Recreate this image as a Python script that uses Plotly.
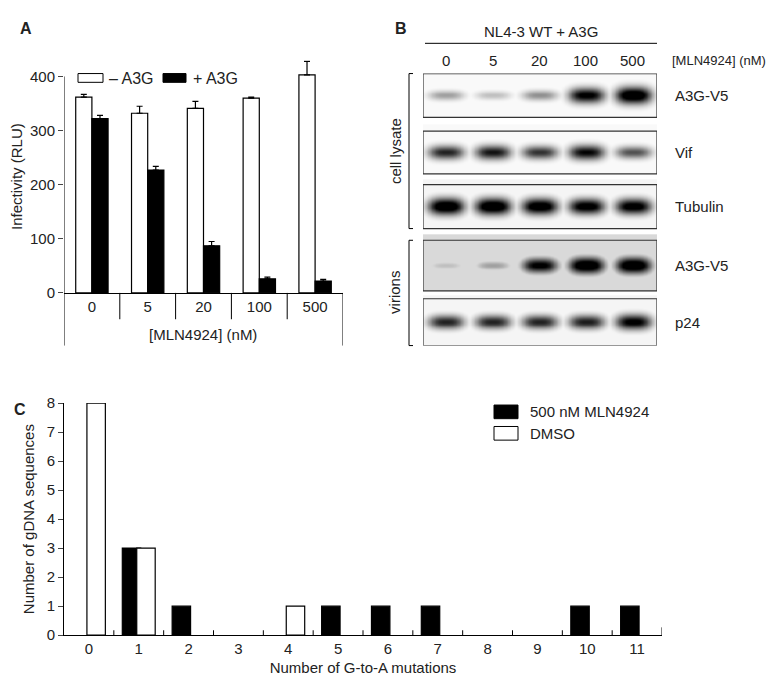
import numpy as np
import plotly.graph_objects as go

W, H = 778, 679
def px(x): return x / W
def py(y): return 1 - y / H

# Panel A data
conc = ["0", "5", "20", "100", "500"]
minus_a3g = [362, 332, 341, 360, 403]
minus_err = [5, 13, 13, 2, 25]
plus_a3g = [322, 227, 87, 26, 22]
plus_err = [6, 7, 8, 3, 3]

# Panel B (band intensities, 0..1)
blot_names = ["A3G-V5", "Vif", "Tubulin", "A3G-V5", "p24"]
blot_int = [
    [0.30, 0.20, 0.35, 0.85, 1.00],
    [0.70, 0.75, 0.65, 0.80, 0.55],
    [1.00, 1.00, 0.95, 0.90, 0.90],
    [0.20, 0.30, 0.85, 1.00, 1.00],
    [0.70, 0.70, 0.70, 0.72, 0.85],
]
blot_bg = [0.02, 0.02, 0.03, 0.12, 0.03]

# Panel C data (None = no sequences)
mutations = [str(i) for i in range(12)]
mln_counts = [None, 3, 1, None, None, 1, 1, 1, None, None, 1, 1]
dmso_counts = [8, 3, None, None, 1, None, None, None, None, None, None, None]

FONT = "Liberation Sans, Arial, sans-serif"
fig = go.Figure()

fig.add_trace(go.Bar(x=conc, y=minus_a3g, error_y=dict(type="data", array=minus_err, symmetric=False, arrayminus=[0]*5, color="black", thickness=1.2, width=3),
                     marker=dict(color="white", line=dict(color="black", width=1.2)), xaxis="x", yaxis="y", showlegend=False))
fig.add_trace(go.Bar(x=conc, y=plus_a3g, error_y=dict(type="data", array=plus_err, symmetric=False, arrayminus=[0]*5, color="black", thickness=1.2, width=3),
                     marker=dict(color="black", line=dict(color="black", width=1.2)), xaxis="x", yaxis="y", showlegend=False))

fig.add_trace(go.Bar(x=mutations, y=mln_counts, marker=dict(color="black", line=dict(color="black", width=1.2)),
                     xaxis="x3", yaxis="y3", offsetgroup="a", showlegend=False, width=0.37))
fig.add_trace(go.Bar(x=mutations, y=dmso_counts, marker=dict(color="white", line=dict(color="black", width=1.2)),
                     xaxis="x3", yaxis="y3", offsetgroup="b", showlegend=False, width=0.37))

boxes = [(58, 103), (117, 161), (172, 217), (229, 281), (289, 337)]
xs = np.linspace(0, 5, 300)
ys_all, zs = [], []
for (y0, y1), ints, bg in zip(boxes, blot_int, blot_bg):
    ys = np.arange(y0, y1 + 0.5, 0.5)
    yc = (y0 + y1) / 2
    Z = np.full((len(ys), len(xs)), bg)
    for i, I in enumerate(ints):
        sx = np.exp(-(np.abs(xs - (i + 0.5)) / 0.38) ** 3)
        sy = np.exp(-((ys - yc) / (3.5 + 5 * I)) ** 2)
        Z = np.maximum(Z, I * np.outer(sy, sx))
    ys_all.append(ys); zs.append(Z)
    ys_all.append([y1 + 0.25]); zs.append(np.full((1, len(xs)), np.nan))
Y = np.concatenate(ys_all)
Z = np.vstack(zs)
fig.add_trace(go.Heatmap(x=xs, y=Y, z=Z, colorscale=[[0, "white"], [1, "black"]], zmin=0, zmax=0.8,
                         showscale=False, xaxis="x2", yaxis="y2", hoverinfo="skip"))

ytopA = 283 - 222 * 430 / 400
fig.update_layout(
    width=W, height=H, margin=dict(l=0, r=0, t=0, b=0), paper_bgcolor="white", plot_bgcolor="white",
    font=dict(family=FONT, size=15, color="#222"), barmode="group", bargap=0.42, bargroupgap=0,
    xaxis=dict(domain=[px(56), px(335)], anchor="y", range=[-0.5, 4.5], showline=True, linecolor="black",
               ticks="", tickfont=dict(size=15)),
    yaxis=dict(domain=[py(283), py(ytopA)], anchor="x", range=[0, 430], showline=False,
               ticks="outside", ticklen=5, tickvals=[0, 100, 200, 300, 400], showgrid=False, zeroline=False,
               title=dict(text="Infectivity (RLU)", standoff=6, font=dict(size=15)), tickfont=dict(size=15)),
    xaxis2=dict(domain=[px(415), px(649)], anchor="y2", range=[0, 5], visible=False),
    yaxis2=dict(domain=[py(337), py(58)], anchor="x2", range=[337, 58], visible=False),
    xaxis3=dict(domain=[px(56), px(654)], anchor="y3", range=[-0.5, 11.5], showline=True, linecolor="black",
                ticks="", tickfont=dict(size=15),
                title=dict(text="Number of G-to-A mutations", standoff=6, font=dict(size=15))),
    yaxis3=dict(domain=[py(634), py(396)], anchor="x3", range=[0, 8], showline=True, linecolor="black",
                ticks="outside", ticklen=5, dtick=1, showgrid=False, zeroline=False, tickfont=dict(size=15),
                title=dict(text="Number of gDNA sequences", standoff=8, font=dict(size=15))),
)

shapes, ann = [], []
def line(x0, y0, x1, y1, xref="paper", yref="paper", w=1):
    shapes.append(dict(type="line", x0=x0, y0=y0, x1=x1, y1=y1, xref=xref, yref=yref, line=dict(color="black", width=w)))
def text(x, y, t, size=15, bold=False, anchor="center", angle=0):
    ann.append(dict(x=px(x), y=py(y), xref="paper", yref="paper", text=f"<b>{t}</b>" if bold else t, showarrow=False,
                    font=dict(size=size, family=FONT), xanchor=anchor, yanchor="middle", textangle=angle))

line(-0.5, 0, -0.5, 400, xref="x", yref="y")
for b in [0.5, 1.5, 2.5, 3.5]:
    line(b, py(283), b, py(310), xref="x")
for b in [-0.5, 4.5]:
    line(b, py(283), b, py(337), xref="x")
text(195, 326, "[MLN4924] (nM)")
shapes.append(dict(type="rect", x0=px(70), x1=px(95), y0=py(67), y1=py(58), xref="paper", yref="paper", line=dict(color="black", width=1), fillcolor="white"))
shapes.append(dict(type="rect", x0=px(155), x1=px(178), y0=py(67), y1=py(58), xref="paper", yref="paper", line=dict(color="black", width=1), fillcolor="black"))
text(99, 63, "– A3G", 16, anchor="left")
text(183, 63, "+ A3G", 16, anchor="left")

line(px(417), py(27), px(649), py(27))
text(533, 15, "NL4-3 WT + A3G")
for i, c in enumerate(conc):
    text(438 + i * 46.6, 45, c)
text(760, 45, "[MLN4924] (nM)", 13, anchor="right")
for (y0, y1), name in zip(boxes, blot_names):
    shapes.append(dict(type="rect", x0=0, x1=5, y0=y0, y1=y1, xref="x2", yref="y2", line=dict(color="#333", width=1.2)))
    text(665, (y0 + y1) / 2, name, anchor="left")
for (y0, y1), lab in [((58, 217), "cell lysate"), ((229, 337), "virions")]:
    line(px(401), py(y0), px(401), py(y1))
    line(px(401), py(y0), px(405), py(y0))
    line(px(401), py(y1), px(405), py(y1))
    text(387, (y0 + y1) / 2, lab, angle=-90)

for b in np.arange(0.5, 11.5, 1):
    line(b, py(634), b, py(629), xref="x3")
line(11.5, py(634), 11.5, py(626), xref="x3")
shapes.append(dict(type="rect", x0=px(486), x1=px(510), y0=py(412), y1=py(398), xref="paper", yref="paper", line=dict(color="black", width=1), fillcolor="black"))
shapes.append(dict(type="rect", x0=px(486), x1=px(510), y0=py(434), y1=py(420), xref="paper", yref="paper", line=dict(color="black", width=1), fillcolor="white"))
text(520, 405, "500 nM MLN4924", 15, anchor="left")
text(520, 427, "DMSO", 15, anchor="left")

text(18, 12, "A", 16, True)
text(393, 12, "B", 16, True)
text(12, 403, "C", 16, True)

fig.update_layout(shapes=shapes, annotations=ann)
fig.write_html("out.html")
